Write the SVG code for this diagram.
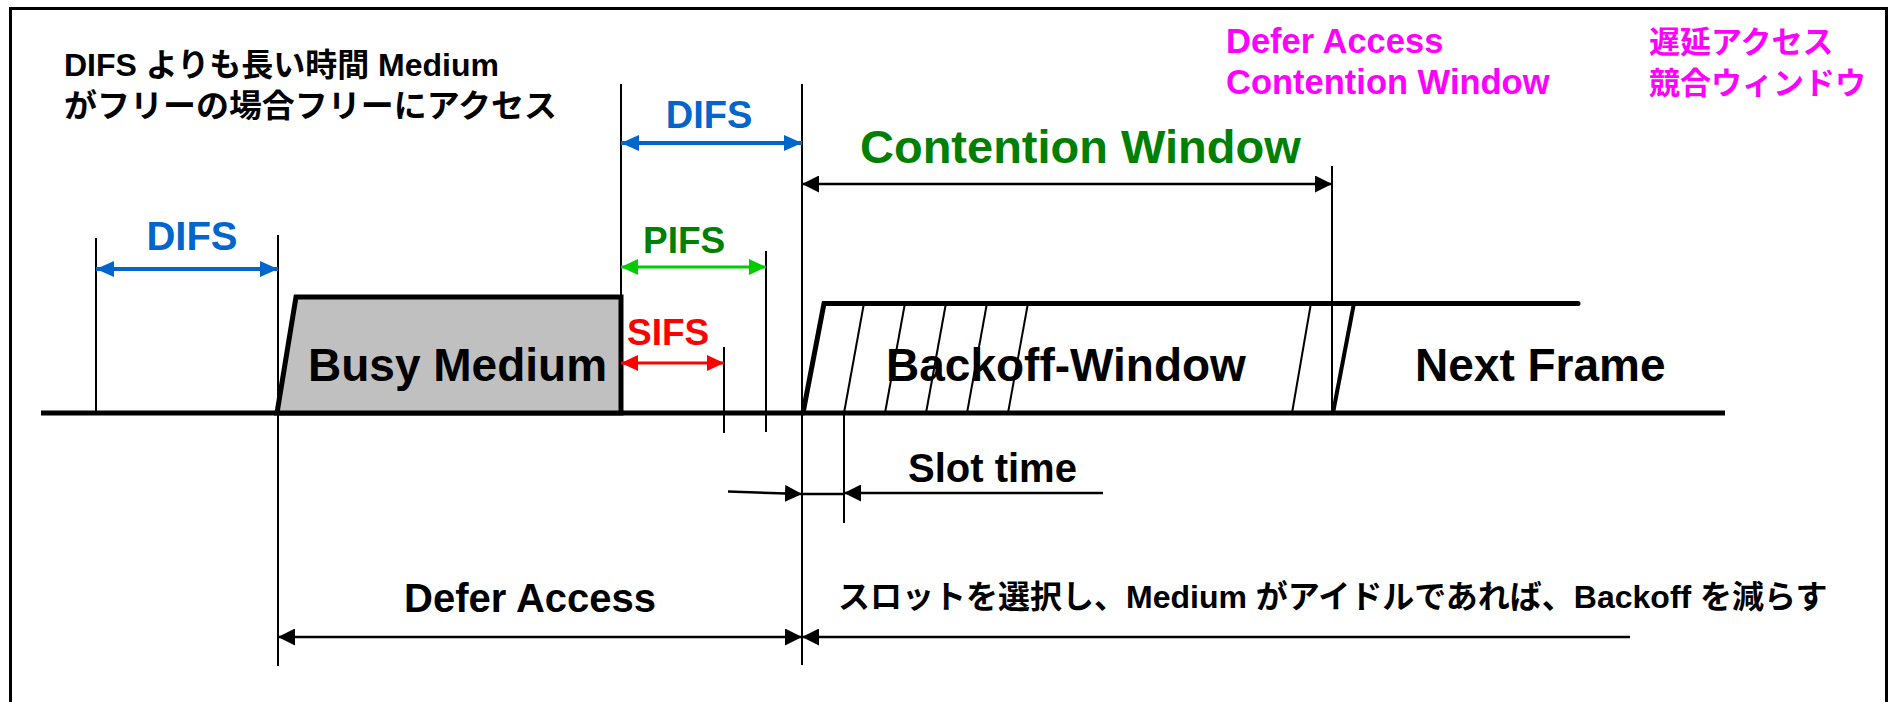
<svg xmlns="http://www.w3.org/2000/svg" width="1892" height="702" viewBox="0 0 1892 702">
  <style>
    text { font-family: "Liberation Sans", "Noto Sans CJK JP", sans-serif; font-weight: bold; }
    .ink { fill: #000; }
    .blue { fill: #0066cc; }
    .green { fill: #008000; }
    .red { fill: #ff0000; }
    .magenta { fill: #ff00ff; }
    .tick { stroke: #000; stroke-width: 2; fill: none; }
    .heavy { stroke: #000; stroke-width: 5; fill: none; }
    .edge { stroke: #000; stroke-width: 4; fill: none; }
    .hatch { stroke: #000; stroke-width: 2; fill: none; }
    .dim { stroke: #000; stroke-width: 2.5; fill: none; }
    .dim2 { stroke: #000; stroke-width: 2.5; fill: none; marker-start: url(#ak); marker-end: url(#ak); }
    .dim1 { stroke: #000; stroke-width: 2.5; fill: none; marker-end: url(#ak); }
    .difs { stroke: #0066cc; stroke-width: 4; fill: none; marker-start: url(#ab); marker-end: url(#ab); }
    .pifs { stroke: #00cc00; stroke-width: 3; fill: none; marker-start: url(#ag); marker-end: url(#ag); }
    .sifs { stroke: #ff0000; stroke-width: 3; fill: none; marker-start: url(#ar); marker-end: url(#ar); }
  </style>
  <defs>
    <marker id="ak" viewBox="0 0 17 17" refX="17" refY="8.5" markerWidth="17" markerHeight="17" markerUnits="userSpaceOnUse" orient="auto-start-reverse">
      <path d="M0,0 L17,8.5 L0,17 z" fill="#000"/>
    </marker>
    <marker id="ab" viewBox="0 0 18 16" refX="18" refY="8" markerWidth="18" markerHeight="16" markerUnits="userSpaceOnUse" orient="auto-start-reverse">
      <path d="M0,0 L18,8 L0,16 z" fill="#0066cc"/>
    </marker>
    <marker id="ag" viewBox="0 0 17 16" refX="17" refY="8" markerWidth="17" markerHeight="16" markerUnits="userSpaceOnUse" orient="auto-start-reverse">
      <path d="M0,0 L17,8 L0,16 z" fill="#00cc00"/>
    </marker>
    <marker id="ar" viewBox="0 0 17 16" refX="17" refY="8" markerWidth="17" markerHeight="16" markerUnits="userSpaceOnUse" orient="auto-start-reverse">
      <path d="M0,0 L17,8 L0,16 z" fill="#ff0000"/>
    </marker>
  </defs>

  <!-- outer frame -->
  <rect id="frame" x="10.5" y="8.5" width="1876" height="720" fill="none" stroke="#000" stroke-width="3"/>

  <!-- explanatory notes -->
  <g id="note-top-left">
    <text class="ink" x="64" y="76" font-size="32">DIFS よりも長い時間 Medium</text>
    <text class="ink" x="64" y="117" font-size="32" textLength="493" lengthAdjust="spacingAndGlyphs">がフリーの場合フリーにアクセス</text>
  </g>
  <g id="legend">
    <text class="magenta" x="1226" y="53" font-size="34.5">Defer Access</text>
    <text class="magenta" x="1226" y="94" font-size="34.5">Contention Window</text>
    <text class="magenta" x="1649" y="53" font-size="31">遅延アクセス</text>
    <text class="magenta" x="1649" y="94" font-size="31">競合ウィンドウ</text>
  </g>

  <!-- medium time line -->
  <g id="medium-line">
    <line class="heavy" x1="41" y1="413" x2="1725" y2="413"/>
  </g>

  <g id="busy-medium">
    <polygon points="277,413 296,297 621,297 621,413" fill="#c0c0c0" stroke="#000" stroke-width="5" stroke-linejoin="miter"/>
    <text class="ink" x="308" y="381" font-size="46">Busy Medium</text>
  </g>

  <g id="backoff-window">
    <polyline points="803,413 824,303.5 1578,303.5" class="heavy" stroke-linecap="round" stroke-linejoin="miter"/>
    <line class="hatch" x1="864" y1="303" x2="844" y2="413"/>
    <line class="hatch" x1="905" y1="303" x2="885" y2="413"/>
    <line class="hatch" x1="946" y1="303" x2="926" y2="413"/>
    <line class="hatch" x1="987" y1="303" x2="967" y2="413"/>
    <line class="hatch" x1="1028" y1="303" x2="1008" y2="413"/>
    <line class="hatch" x1="1311" y1="303" x2="1292" y2="413"/>
    <text class="ink" x="886" y="381" font-size="46">Backoff-Window</text>
  </g>

  <g id="next-frame">
    <line class="edge" x1="1354" y1="303" x2="1333" y2="413"/>
    <text class="ink" x="1415" y="381" font-size="46">Next Frame</text>
  </g>

  <!-- interval boundaries, dimension arrows and their labels -->
  <g id="connectors">
    <line class="tick" x1="96" y1="238" x2="96" y2="413"/>
    <line class="tick" x1="278" y1="235" x2="278" y2="666"/>
    <line class="tick" x1="621" y1="84" x2="621" y2="413"/>
    <line class="tick" x1="802" y1="84" x2="802" y2="665"/>
    <line class="tick" x1="766" y1="251" x2="766" y2="432"/>
    <line class="tick" x1="724" y1="347" x2="724" y2="433"/>
    <line class="tick" x1="1332" y1="166" x2="1332" y2="413"/>
    <line class="tick" x1="844" y1="413" x2="844" y2="523"/>

    <line class="difs" x1="96" y1="269" x2="278" y2="269"/>
    <line class="difs" x1="621" y1="143" x2="802" y2="143"/>
    <line class="pifs" x1="621" y1="267" x2="766" y2="267"/>
    <line class="sifs" x1="621" y1="363" x2="724" y2="363"/>
    <line class="dim2" x1="802" y1="184" x2="1332" y2="184"/>

    <line class="dim1" x1="728" y1="491.5" x2="802" y2="494"/>
    <line class="dim" x1="802" y1="494" x2="844" y2="494"/>
    <line class="dim1" x1="1103" y1="493" x2="844" y2="493"/>

    <line class="dim2" x1="278" y1="637" x2="802" y2="637"/>
    <line class="dim1" x1="1630" y1="637" x2="802" y2="637"/>
  </g>

  <g id="labels">
    <text class="blue" x="192" y="250" font-size="40" text-anchor="middle">DIFS</text>
    <text class="blue" x="709" y="128" font-size="38" text-anchor="middle">DIFS</text>
    <text class="green" x="860" y="163" font-size="47">Contention Window</text>
    <text class="green" x="643" y="253" font-size="37">PIFS</text>
    <text class="red" x="627" y="345" font-size="37">SIFS</text>
    <text class="ink" x="908" y="482" font-size="40">Slot time</text>
    <text class="ink" x="404" y="612" font-size="40">Defer Access</text>
    <text class="ink" x="838" y="608" font-size="32">スロットを選択し、Medium がアイドルであれば、Backoff を減らす</text>
  </g>
</svg>
